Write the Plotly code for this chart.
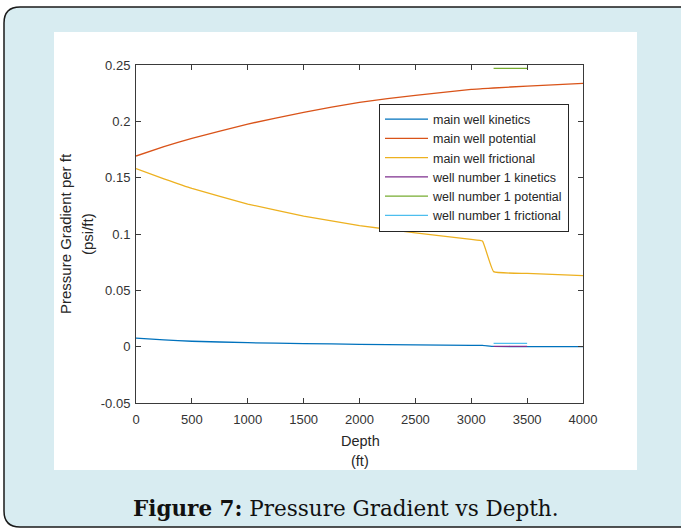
import plotly.graph_objects as go

# ---------------- data ----------------
depth_main = [0, 250, 500, 1000, 1500, 2000, 2500, 3000, 3100, 3200, 3500, 4000]
main_kinetics = [0.0075, 0.0060, 0.0048, 0.0035, 0.0027, 0.0021, 0.0016, 0.0012, 0.0011, 0.0002, 0.0001, 0.0000]
main_potential = [0.1692, 0.1775, 0.1849, 0.1976, 0.2080, 0.2169, 0.2231, 0.2284, 0.2290, 0.2296, 0.2313, 0.2337]
main_frictional = [0.1580, 0.1490, 0.1405, 0.1266, 0.1159, 0.1075, 0.1010, 0.0952, 0.0937, 0.0666, 0.0650, 0.0630]

depth_well1 = [3200, 3500]
well1_kinetics = [0.0003, 0.0003]
well1_potential = [0.2470, 0.2470]
well1_frictional = [0.0030, 0.0030]

series_names = ["main well kinetics", "main well potential", "main well frictional",
                "well number 1 kinetics", "well number 1 potential", "well number 1 frictional"]
x_ticks = [0, 500, 1000, 1500, 2000, 2500, 3000, 3500, 4000]
y_tick_vals = [-0.05, 0, 0.05, 0.1, 0.15, 0.2, 0.25]
y_tick_text = ["-0.05", "0", "0.05", "0.1", "0.15", "0.2", "0.25"]

colors = ["#0072BD", "#D95319", "#EDB120", "#7E2F8E", "#77AC30", "#4DBEEE"]

# ---------------- layout geometry (pixels) ----------------
W, H = 681, 531
L, R, T, B = 136, 98, 65, 128
PW, PH = W - L - R, H - T - B


def fx(x):
    return (x - L) / PW


def fy(y):
    return (H - B - y) / PH


fig = go.Figure()
series = [(depth_main, main_kinetics), (depth_main, main_potential), (depth_main, main_frictional),
          (depth_well1, well1_kinetics), (depth_well1, well1_potential), (depth_well1, well1_frictional)]
for (xs, ys), name, c in zip(series, series_names, colors):
    fig.add_trace(go.Scatter(x=xs, y=ys, mode="lines", name=name,
                             line=dict(color=c, width=1.3, shape="spline", smoothing=0.3)))

# frame with rounded corners
x0, y0, x1, y1, r = 4, 7, 720, 527, 16
path = (f"M {fx(x0 + r)},{fy(y0)} L {fx(x1)},{fy(y0)} L {fx(x1)},{fy(y1)} "
        f"L {fx(x0 + r)},{fy(y1)} Q {fx(x0)},{fy(y1)} {fx(x0)},{fy(y1 - r)} "
        f"L {fx(x0)},{fy(y0 + r)} Q {fx(x0)},{fy(y0)} {fx(x0 + r)},{fy(y0)} Z")
shapes = [
    dict(type="path", xref="paper", yref="paper", path=path, fillcolor="#d8ecf1",
         line=dict(color="#1a1a1a", width=1.5), layer="below"),
    dict(type="rect", xref="paper", yref="paper", x0=fx(54), x1=fx(637), y0=fy(470), y1=fy(32),
         fillcolor="white", line=dict(width=0), layer="below"),
]

xt_font = dict(family="Liberation Sans, Arial, sans-serif", size=14.5, color="#262626")
yt_font = dict(family="Liberation Sans, Arial, sans-serif", size=15, color="#262626")
annotations = [
    dict(text="Depth", x=fx(360), y=fy(441), xref="paper", yref="paper", showarrow=False,
         font=xt_font, xanchor="center", yanchor="middle"),
    dict(text="(ft)", x=fx(360), y=fy(461), xref="paper", yref="paper", showarrow=False,
         font=xt_font, xanchor="center", yanchor="middle"),
    dict(text="Pressure Gradient per ft", x=fx(65), y=fy(234), xref="paper", yref="paper",
         showarrow=False, font=yt_font, textangle=-90, xanchor="center", yanchor="middle"),
    dict(text="(psi/ft)", x=fx(87), y=fy(234), xref="paper", yref="paper",
         showarrow=False, font=yt_font, textangle=-90, xanchor="center", yanchor="middle"),
    dict(text="<b>Figure 7:</b> Pressure Gradient vs Depth.", x=fx(346), y=fy(508),
         xref="paper", yref="paper", showarrow=False,
         font=dict(family="DejaVu Serif, serif", size=21.5, color="#111111"),
         xanchor="center", yanchor="middle"),
]

tick_font = dict(family="Liberation Sans, Arial, sans-serif", size=13, color="#333333")
axis_common = dict(showline=True, linecolor="#3a3a3a", linewidth=1, mirror="ticks",
                   ticks="inside", ticklen=5, tickcolor="#3a3a3a", showgrid=False,
                   zeroline=False, tickfont=tick_font)

fig.update_layout(
    width=W, height=H, margin=dict(l=L, r=R, t=T, b=B, autoexpand=False),
    paper_bgcolor="white", plot_bgcolor="rgba(0,0,0,0)",
    xaxis=dict(range=[0, 4000], tickvals=x_ticks, ticklabelstandoff=4, **axis_common),
    yaxis=dict(range=[-0.05, 0.25], tickvals=y_tick_vals, ticktext=y_tick_text,
               ticklabelstandoff=2, **axis_common),
    legend=dict(x=fx(379), y=fy(103.5), xanchor="left", yanchor="top", bgcolor="white",
                bordercolor="#262626", borderwidth=1,
                font=dict(family="Liberation Sans, Arial, sans-serif", size=12.5, color="#262626"),
                itemwidth=43, tracegroupgap=0),
    shapes=shapes, annotations=annotations, showlegend=True,
)

fig.write_html("out.html", config={"displayModeBar": False},
               post_script="document.body.style.margin='0';document.body.style.overflow='hidden';")
